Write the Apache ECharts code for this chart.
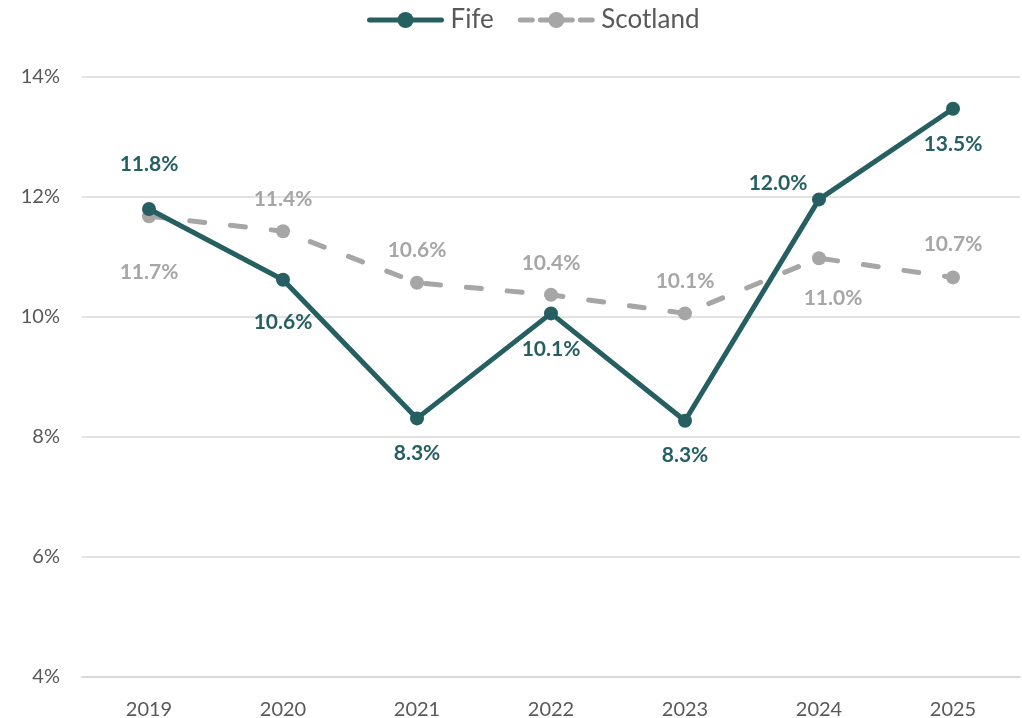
<!DOCTYPE html>
<html><head><meta charset="utf-8">
<script src="https://cdn.jsdelivr.net/npm/echarts@6/dist/echarts.min.js"></script>
<style>html,body{margin:0;padding:0;background:#fff}#c{width:1022px;height:718px}</style>
</head><body><div id="c"></div>
<script>
var categories = ['2019','2020','2021','2022','2023','2024','2025'];
var fife = [11.80, 10.62, 8.31, 10.06, 8.27, 11.96, 13.47];
var scotland = [11.68, 11.43, 10.57, 10.37, 10.06, 10.98, 10.66];
var FIFE_C = '#265F62', SCOT_C = '#A6A6A6';
var FONT = 'Lato, "Open Sans", sans-serif';
var fifeOffsets = [[0,-45],[0,42],[0,35],[0,36],[0,34],[-41,-16],[0,35]];
var scotOffsets = [[0,56],[0,-32],[0,-33],[0,-32],[0,-32],[14,40],[0,-33]];
function build(vals, offs, color){
  return vals.map(function(v,i){
    return {value:v, label:{show:true, position:'inside', offset:offs[i], color:color,
      fontFamily:FONT, fontSize:21, fontWeight:'bold',
      formatter:function(p){return p.value.toFixed(1)+'%';}}};
  });
}
var chart = echarts.init(document.getElementById('c'));
chart.setOption({
  animation:false,
  legend:{top:2, left:362, itemWidth:72, itemHeight:20, itemGap:24,
    textStyle:{fontFamily:FONT, fontSize:26, color:'#595959', padding:[0,0,0,4]},
    data:[{name:'Fife', itemStyle:{color:FIFE_C}, lineStyle:{width:5, color:FIFE_C, cap:'round'}},
          {name:'Scotland', itemStyle:{color:SCOT_C}, lineStyle:{width:5, color:SCOT_C, type:[12,8], cap:'round'}}]},
  grid:{left:82, right:2, top:77, bottom:41, containLabel:false, outerBoundsMode:'none'},
  xAxis:{type:'category', data:categories, boundaryGap:true,
    axisLine:{show:true, lineStyle:{color:'#D9D9D9', width:2}},
    axisTick:{show:false},
    axisLabel:{fontFamily:FONT, fontSize:20, color:'#595959', margin:23}},
  yAxis:{type:'value', min:4, max:14, interval:2,
    axisLine:{show:false}, axisTick:{show:false},
    splitLine:{lineStyle:{color:'#D9D9D9', width:1.5}},
    axisLabel:{fontFamily:FONT, fontSize:20, color:'#595959', margin:22,
      formatter:function(v){return v+'%';}}},
  series:[
    {name:'Fife', type:'line', data:build(fife, fifeOffsets, FIFE_C), z:3,
      symbol:'circle', symbolSize:14, itemStyle:{color:FIFE_C},
      lineStyle:{color:FIFE_C, width:5}},
    {name:'Scotland', type:'line', data:build(scotland, scotOffsets, SCOT_C), z:2,
      symbol:'circle', symbolSize:14, itemStyle:{color:SCOT_C},
      lineStyle:{color:SCOT_C, width:5, type:[15,26], cap:'round'}}
  ]
});
</script></body></html>
